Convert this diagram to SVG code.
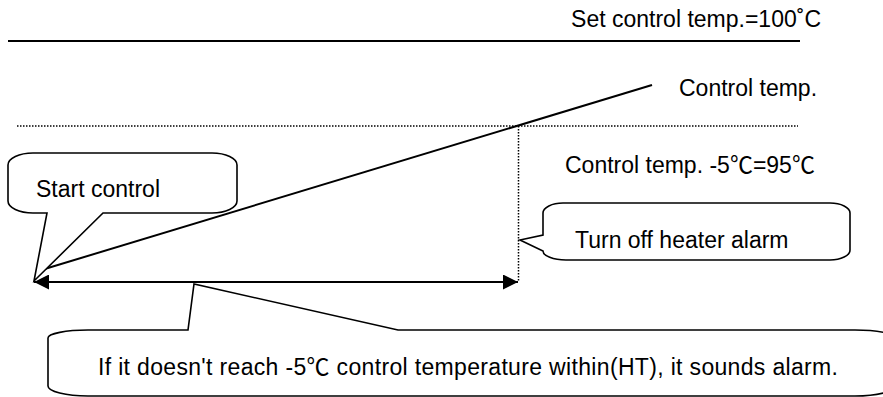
<svg xmlns="http://www.w3.org/2000/svg" width="883" height="397" viewBox="0 0 883 397">
<style>
text{font-family:"Liberation Sans","Noto Sans CJK SC",Arial,sans-serif;font-size:23px;fill:#000}
.solid{stroke:#000;stroke-width:2;fill:none}
.dot{stroke:#000;stroke-width:1.5;stroke-dasharray:1.5 1.5;fill:none}
.callout{stroke:#000;stroke-width:1.6;fill:#fff;stroke-linejoin:miter}
</style>
<defs>
<marker id="ah" viewBox="0 0 15 15" refX="15" refY="7.5" markerWidth="15" markerHeight="15" markerUnits="userSpaceOnUse" orient="auto-start-reverse">
<path d="M0,0 L15,7.5 L0,15 Z" fill="#000"/>
</marker>
</defs>
<g id="lines">
<line class="solid" x1="8" y1="41" x2="800" y2="41"/>
<line class="dot" x1="17" y1="126" x2="798" y2="126"/>
<line class="dot" x1="518.5" y1="126" x2="518.5" y2="282"/>
<line class="solid" x1="38" y1="271" x2="652" y2="85"/>
</g>
<g id="labels">
<text x="821" y="27" text-anchor="end">Set control temp.=100˚C</text>
<text x="679" y="96">Control temp.</text>
<text x="565" y="173">Control temp. -5℃=95℃</text>
</g>
<g id="start-control">
<path class="callout" d="M33,153 H212 A25,12 0 0 1 237,165 V201 A25,12 0 0 1 212,213 H103 L34,281 L47,213 H33 A25,12 0 0 1 8,201 V165 A25,12 0 0 1 33,153 Z"/>
<text x="36" y="197">Start control</text>
</g>
<g id="connectors">
<line x1="34" y1="282" x2="518" y2="282" stroke="#000" stroke-width="2" marker-start="url(#ah)" marker-end="url(#ah)"/>
</g>
<g id="turn-off-heater-alarm">
<path class="callout" d="M563,203 H830 A20,10 0 0 1 850,213 V250 A20,10 0 0 1 830,260 H566 A23,9 0 0 1 543,251 L520,240 L543,235 V213 A20,10 0 0 1 563,203 Z"/>
<text x="575" y="248">Turn off heater alarm</text>
</g>
<g id="alarm-note">
<path class="callout" d="M88,330 H188 L194,284 L398,330 H855 A40,8 0 0 1 895,338 V386 A40,10 0 0 1 855,396 H88 A40,10 0 0 1 48,386 V338 A40,8 0 0 1 88,330 Z"/>
<text x="98" y="375" textLength="740" lengthAdjust="spacing">If it doesn't reach -5℃ control temperature within(HT), it sounds alarm.</text>
</g>
</svg>
